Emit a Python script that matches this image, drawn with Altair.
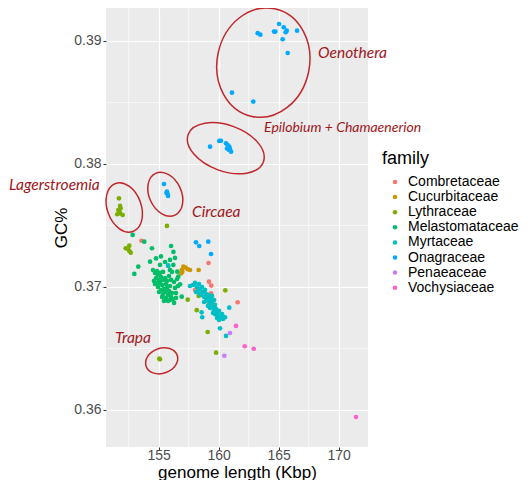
import altair as alt
import pandas as pd

families = ["Combretaceae", "Cucurbitaceae", "Lythraceae", "Melastomataceae",
            "Myrtaceae", "Onagraceae", "Penaeaceae", "Vochysiaceae"]
palette = ["#F8766D", "#CD9600", "#7CAE00", "#00BE67",
           "#00BFC4", "#00A9FF", "#C77CFF", "#FF61CC"]

combretaceae_x = [153.57, 159.15, 159.19, 159.38, 158.03, 159.36, 159.19, 159.61, 161.58]
combretaceae_y = [0.37376, 0.37195, 0.37043, 0.37011, 0.36976, 0.36949, 0.36872, 0.36854, 0.36876]

cucurbitaceae_x = [156.92, 157.05, 157.25, 157.42, 157.61, 156.97, 156.88, 158.33]
cucurbitaceae_y = [0.37138, 0.37165, 0.37157, 0.37144, 0.37138, 0.37124, 0.37111, 0.37138]

lythraceae_x = [151.69, 151.78, 151.63, 151.78, 151.55, 152.00, 151.83, 151.73,
                152.25, 152.55, 152.55, 152.44, 152.67,
                155.69, 160.55, 158.33, 157.42, 158.17, 159.08, 159.78, 155.11, 155.05]
lythraceae_y = [0.37721, 0.37659, 0.37626, 0.37599, 0.37591, 0.37585, 0.37640, 0.37610,
                0.37315, 0.37336, 0.37293, 0.37309, 0.37279,
                0.37496, 0.36973, 0.36927, 0.36897, 0.36811, 0.36634, 0.36466, 0.36412, 0.36417]

melastomataceae_x = [152.83, 153.80, 154.44, 156.03, 156.23, 155.19, 154.78, 154.28, 153.30, 152.97,
                     155.94, 156.22, 155.80, 156.55, 156.63, 156.78, 156.92, 155.53, 155.11, 156.36,
                     154.53, 154.69, 154.86, 154.94, 154.78, 154.61, 155.03, 155.19, 155.11, 155.28,
                     154.94, 155.36, 155.44, 155.19, 155.61, 155.53, 155.69, 155.36, 155.78, 155.61,
                     155.86, 155.94, 156.03, 155.78, 156.11, 155.94, 156.28, 156.36, 156.44, 156.53,
                     156.61, 156.19, 155.53, 155.69, 155.28, 155.44, 155.86, 156.03, 155.03, 154.86,
                     155.11, 154.69, 156.44, 156.28, 156.11, 155.94, 155.36]
melastomataceae_y = [0.37423, 0.37368, 0.37315, 0.37333, 0.37285, 0.37248, 0.37232, 0.37206, 0.37165, 0.37106,
                     0.37220, 0.37179, 0.37171, 0.37124, 0.37084, 0.37022, 0.36921, 0.37203, 0.37179, 0.37236,
                     0.37138, 0.37114, 0.37130, 0.37098, 0.37073, 0.37049, 0.37057, 0.37081, 0.37033, 0.37016,
                     0.37000, 0.37057, 0.36984, 0.36976, 0.37024, 0.36959, 0.36992, 0.36943, 0.36935, 0.36911,
                     0.36967, 0.37008, 0.36919, 0.36886, 0.36951, 0.36894, 0.37041, 0.36992, 0.36951, 0.37065,
                     0.37008, 0.36902, 0.37073, 0.37049, 0.36919, 0.36886, 0.37089, 0.37057, 0.36959, 0.37033,
                     0.37114, 0.37024, 0.36911, 0.36870, 0.37122, 0.37138, 0.37122]

myrtaceae_x = [157.86, 158.03, 158.19, 158.36, 158.44, 158.28, 158.61, 158.69, 158.53, 158.86,
               158.94, 158.78, 159.03, 159.11, 158.94, 159.19, 159.28, 159.36, 159.44, 159.53,
               159.28, 159.61, 159.69, 159.78, 159.86, 159.69, 159.94, 160.03, 160.11, 160.19,
               160.28, 160.36, 160.03, 160.44, 159.44, 159.11, 159.53, 159.86, 158.11, 158.78,
               158.36, 159.61, 157.61,
               160.88, 158.58, 158.63, 160.11, 160.61, 160.53, 155.78]
myrtaceae_y = [0.37016, 0.37033, 0.37000, 0.37024, 0.36984, 0.36967, 0.37000, 0.36959, 0.36935, 0.36976,
               0.36943, 0.36919, 0.36911, 0.36935, 0.36886, 0.36894, 0.36862, 0.36911, 0.36878, 0.36837,
               0.36829, 0.36813, 0.36854, 0.36821, 0.36797, 0.36780, 0.36772, 0.36805, 0.36764, 0.36748,
               0.36780, 0.36740, 0.36732, 0.36756, 0.36927, 0.36846, 0.36789, 0.36748, 0.36959, 0.36878,
               0.36951, 0.36894, 0.37008,
               0.36832, 0.36794, 0.36754, 0.36664, 0.36602, 0.36754, 0.37175]

onagraceae_x = [165.03, 165.42, 165.67, 165.58, 164.72, 164.61, 163.25, 163.47, 166.53, 165.33,
                165.75, 161.11, 162.88,
                159.28, 160.05, 160.19, 160.61, 160.75, 160.88, 160.94, 161.03, 160.80, 160.69, 160.86,
                155.44, 155.69, 155.75, 155.78, 155.65,
                158.11, 158.38, 159.13, 159.36]
onagraceae_y = [0.39138, 0.39111, 0.39084, 0.39071, 0.39076, 0.39076, 0.39063, 0.39051, 0.39084, 0.39014,
                0.38902, 0.38580, 0.38507,
                0.38141, 0.38187, 0.38189, 0.38168, 0.38154, 0.38141, 0.38122, 0.38100, 0.38136, 0.38126, 0.38114,
                0.37837, 0.37775, 0.37756, 0.37740, 0.37764,
                0.37363, 0.37333, 0.37368, 0.37268]

penaeaceae_x = [160.94, 160.47]
penaeaceae_y = [0.36626, 0.36441]

vochysiaceae_x = [161.44, 162.17, 162.92, 171.44]
vochysiaceae_y = [0.36683, 0.36518, 0.36498, 0.35943]

series = {
    "Combretaceae": (combretaceae_x, combretaceae_y),
    "Cucurbitaceae": (cucurbitaceae_x, cucurbitaceae_y),
    "Lythraceae": (lythraceae_x, lythraceae_y),
    "Melastomataceae": (melastomataceae_x, melastomataceae_y),
    "Myrtaceae": (myrtaceae_x, myrtaceae_y),
    "Onagraceae": (onagraceae_x, onagraceae_y),
    "Penaeaceae": (penaeaceae_x, penaeaceae_y),
    "Vochysiaceae": (vochysiaceae_x, vochysiaceae_y),
}

rows = []
for fam, (xs, ys) in series.items():
    for x, y in zip(xs, ys):
        rows.append({"length": x, "gc": y, "family": fam})
points_df = pd.DataFrame(rows)

# annotations (data coordinates)
label_text = ["Oenothera", "Epilobium + Chamaenerion", "Circaea", "Lagerstroemia", "Trapa"]
label_x = [168.28, 163.78, 157.78, 142.52, 151.36]
label_y = [0.38902, 0.38293, 0.37610, 0.37829, 0.36585]
label_size = [15.5, 14, 15.5, 15.5, 15.5]

ellipse_name = ["Oenothera", "Epilobium", "Circaea", "Lagerstroemia", "Trapa"]
ellipse_x = [163.72, 160.59, 155.55, 152.13, 155.25]
ellipse_y = [0.38824, 0.38128, 0.37754, 0.37646, 0.36400]
ellipse_major = [55, 40, 23, 25.5, 16.5]
ellipse_ratio = [0.84, 0.575, 0.70, 0.667, 0.76]
ellipse_angle = [102, 20, 65, 70, 340]

minor_x = [152.5, 157.5, 162.5, 167.5]
minor_y = [0.365, 0.375, 0.385]

X_DOMAIN = [150.61, 172.44]
Y_DOMAIN = [0.35699, 0.39268]

xscale = alt.Scale(domain=X_DOMAIN, nice=False, zero=False)
yscale = alt.Scale(domain=Y_DOMAIN, nice=False, zero=False)

paths = ["M -1,0 A 1,{r} 0 1,1 1,0 A 1,{r} 0 1,1 -1,0 Z".format(r=r) for r in ellipse_ratio]
ell_df = pd.DataFrame({
    "name": ellipse_name, "x": ellipse_x, "y": ellipse_y,
    "size": [(2 * a) ** 2 for a in ellipse_major], "angle": ellipse_angle,
})
lab_df = pd.DataFrame({"text": label_text, "x": label_x, "y": label_y, "fs": label_size})

minor_x_rules = alt.Chart(pd.DataFrame({"v": minor_x})).mark_rule(
    color="white", strokeWidth=0.6).encode(x=alt.X("v:Q", scale=xscale))
minor_y_rules = alt.Chart(pd.DataFrame({"v": minor_y})).mark_rule(
    color="white", strokeWidth=0.6).encode(y=alt.Y("v:Q", scale=yscale))

pts = alt.Chart(points_df).mark_circle(size=22, opacity=1).encode(
    x=alt.X("length:Q", scale=xscale, title="genome length (Kbp)",
            axis=alt.Axis(values=[155, 160, 165, 170], format="d", tickSize=2.5,
                          labelPadding=-1.5, titleY=25, titleBaseline="middle")),
    y=alt.Y("gc:Q", scale=yscale, title="GC%",
            axis=alt.Axis(values=[0.36, 0.37, 0.38, 0.39], format=".2f", titlePadding=3)),
    color=alt.Color("family:N", scale=alt.Scale(domain=families, range=palette),
                    legend=alt.Legend(title="family", orient="none", legendX=276, legendY=142,
                                      titleFontSize=18, titleFont="Liberation Sans",
                                      titleFontWeight="normal", titleColor="black",
                                      titlePadding=7,
                                      labelFontSize=14, labelFont="Liberation Sans",
                                      labelColor="black", symbolType="circle",
                                      symbolSize=20, symbolOffset=6, labelOffset=6,
                                      rowPadding=1.1)),
)

ells = alt.Chart(ell_df).mark_point(filled=False, strokeWidth=1.5, color="#C0282D", opacity=1).encode(
    x=alt.X("x:Q", scale=xscale),
    y=alt.Y("y:Q", scale=yscale),
    shape=alt.Shape("name:N", scale=alt.Scale(domain=ellipse_name, range=paths), legend=None),
    size=alt.Size("size:Q", scale=None, legend=None),
    angle=alt.Angle("angle:Q", scale=None),
)

labels = alt.Chart(lab_df).mark_text(
    align="left", baseline="middle", font="Lato", fontStyle="italic",
    color="#A0161B").encode(
    x=alt.X("x:Q", scale=xscale),
    y=alt.Y("y:Q", scale=yscale),
    text="text:N",
    size=alt.Size("fs:Q", scale=None, legend=None),
)

chart = alt.layer(minor_x_rules, minor_y_rules, pts, ells, labels).properties(
    width=262, height=439,
    autosize=alt.AutoSizeParams(type="none"),
    padding={"left": 98, "top": 0, "right": 154, "bottom": 34},
    background="white",
).configure_view(
    fill="#EBEBEB", stroke=None,
).configure_axis(
    domain=False, grid=True, gridColor="white", gridWidth=1.2,
    tickColor="#333333", tickSize=3, tickWidth=1,
    labelColor="#4D4D4D", labelFontSize=14, labelFont="Liberation Sans", labelPadding=2,
    titleFontSize=17, titleFont="Liberation Sans", titleFontWeight="normal", titleColor="black",
)

chart.save("out.html", embed_options={"renderer": "svg", "actions": False})
